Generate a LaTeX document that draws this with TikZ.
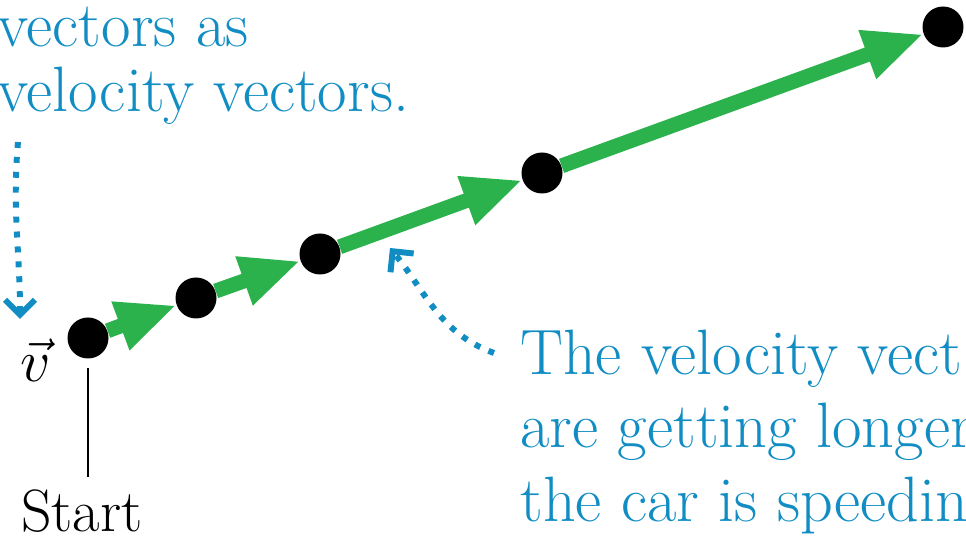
\RequirePackage{fix-cm}
\documentclass[tikz,border=0pt]{standalone}
\usepackage{fontspec}
\usetikzlibrary{arrows.meta}
\definecolor{vecgreen}{RGB}{44,178,76}
\definecolor{noteblue}{RGB}{17,141,196}
\begin{document}
\begin{tikzpicture}[line join=miter,
  dot/.style={circle,fill=black,inner sep=0pt,minimum size=0.82cm},
  vecarrow/.style={vecgreen,line width=8.5pt,-{Triangle[length=34pt,width=27pt]}},
  notearrow/.style={noteblue,line width=3.4pt,dash pattern=on 3.4pt off 5.1pt,
    -{Straight Barb[length=8.5pt,width=17pt]}},
  note/.style={noteblue,anchor=base west,inner sep=0pt,font=\fontsize{36.5}{44}\selectfont}]
  \useasboundingbox (0,0) rectangle (19.32,10.8);
  \clip (0,0) rectangle (19.32,10.8);
  % positions of the car
  \node[dot] (p1) at (1.76,4.04) {};
  \node[dot] (p2) at (3.92,4.84) {};
  \node[dot] (p3) at (6.40,5.72) {};
  \node[dot] (p4) at (10.84,7.34) {};
  \node[dot] (p5) at (18.86,10.26) {};
  \draw[vecarrow] (p1) -- (p2);
  \draw[vecarrow] (p2) -- (p3);
  \draw[vecarrow] (p3) -- (p4);
  \draw[vecarrow] (p4) -- (p5);
  \node[anchor=base,font=\fontsize{34}{40}\selectfont] (vlab) at (0.72,3.16) {$\vec{v}$};
  \node[anchor=base,inner sep=0pt,font=\fontsize{34}{40}\selectfont] (start) at (1.64,0.18) {Start};
  \draw[line width=0.9pt,shorten <=0.18cm,shorten >=0.24cm] (p1.south) -- (p1.south |- start.north);
  % notes
  \node[note] (topA) at (-0.06,9.86) {vectors as};
  \node[note] (topB) at (-0.06,8.56) {velocity vectors.};
  \node[note] (rightA) at (10.40,3.30) {The velocity vect};
  \node[note] (rightB) at (10.40,1.84) {are getting longer};
  \node[note] (rightC) at (10.40,0.36) {the car is speedin};
  \coordinate (fromL) at (0.36,7.96);
  \coordinate (tipL) at (0.40,4.42);
  \coordinate (fromR) at (9.88,3.74);
  \coordinate (tipR) at (7.80,5.84);
  \draw[notearrow] (fromL) to[out=-95,in=90] (tipL);
  \draw[notearrow] (fromR) to[out=160,in=-51] (tipR);
\end{tikzpicture}
\end{document}
